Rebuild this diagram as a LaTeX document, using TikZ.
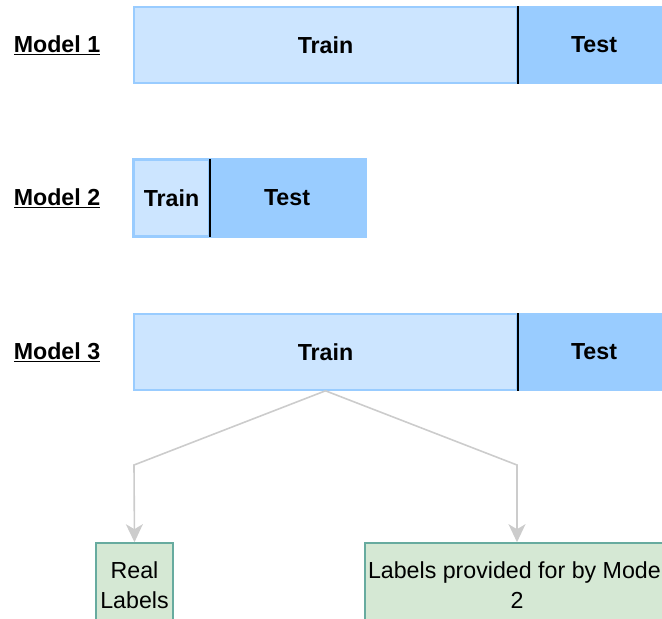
\documentclass[tikz,border=0pt]{standalone}
\usepackage{fontspec}
\setmainfont{Liberation Sans}
\usetikzlibrary{arrows.meta}
\definecolor{trainfill}{HTML}{CCE5FF}
\definecolor{testfill}{HTML}{99CCFF}
\definecolor{labelfill}{HTML}{D5E8D4}
\definecolor{labeldraw}{HTML}{67AB9F}
\definecolor{linkgray}{HTML}{CCCCCC}
\begin{document}
\begin{tikzpicture}[x=1pt,y=-1pt,
  trainbox/.style={draw=testfill,fill=trainfill,line width=1.6pt,minimum height=76pt,
    inner sep=0pt,font=\fontsize{23.2}{28}\selectfont\bfseries},
  testbox/.style={draw=testfill,fill=testfill,line width=1.6pt,minimum height=76pt,
    inner sep=0pt,font=\fontsize{23.2}{28}\selectfont\bfseries},
  modelname/.style={font=\fontsize{23.2}{28}\selectfont\bfseries,inner sep=0pt},
  labelbox/.style={draw=labeldraw,fill=labelfill,line width=1.6pt,minimum height=84pt,
    inner sep=0pt,align=center,font=\fontsize{23.2}{30}\selectfont},
  divider/.style={line width=1.6pt,black},
  link/.style={draw=linkgray,line width=1.6pt,
    -{Stealth[length=18pt,width=17pt,inset=5pt]}}
]
\useasboundingbox (0,0) rectangle (662,619);
\clip (0,0) rectangle (662,619);

% Model 1
\node[modelname] (m1) at (57,45) {\underline{Model 1}};
\node[trainbox,minimum width=383pt] (tr1) at (325.5,45) {Train};
\node[testbox,minimum width=154pt] (te1) at (594,45) {Test};
\draw[divider] (tr1.north east) -- (tr1.south east);

% Model 2
\node[modelname] (m2) at (57,198) {\underline{Model 2}};
\node[trainbox,minimum width=75pt] (tr2) at (171.5,198) {Train};
\node[testbox,minimum width=156pt] (te2) at (287,198) {Test};
\draw[draw=testfill,line width=1.6pt] (tr2.north west) rectangle (te2.south east);
\draw[divider] (tr2.north east) -- (tr2.south east);

% Model 3
\node[modelname] (m3) at (57,352) {\underline{Model 3}};
\node[trainbox,minimum width=383pt] (tr3) at (325.5,352) {Train};
\node[testbox,minimum width=154pt] (te3) at (594,352) {Test};
\draw[divider] (tr3.north east) -- (tr3.south east);

% label sources
\node[labelbox,minimum width=77pt] (real) at (134.5,585) {Real\\Labels};
\node[labelbox,minimum width=304pt] (prov) at (517,585) {Labels provided for by Model\\2};

\coordinate (bendl) at (134,465);
\coordinate (bendr) at (517,465);
\draw[link] (tr3.south) -- (bendl) -- (real.north);
\draw[link] (tr3.south) -- (bendr) -- (prov.north);
\end{tikzpicture}
\end{document}
